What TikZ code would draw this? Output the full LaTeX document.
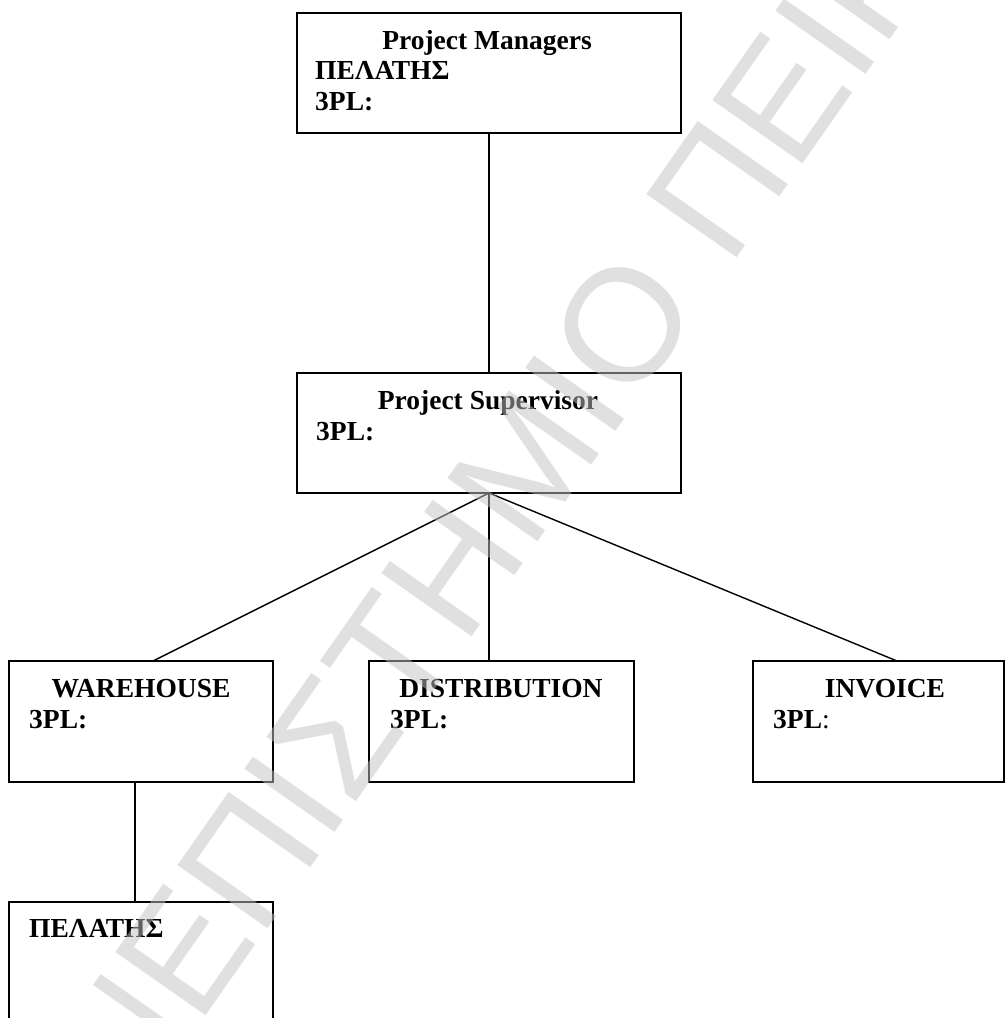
\documentclass[tikz,border=0pt]{standalone}
\usepackage{fontspec}
\setmainfont{Liberation Serif}
\newfontfamily\wmfont{Liberation Sans}
\definecolor{wmgray}{rgb}{0.76,0.76,0.76}
\begin{document}
\begin{tikzpicture}[x=1pt,y=-1pt,
  box/.style={draw=black, line width=1.8pt, rectangle, inner sep=0pt, outer sep=0pt, anchor=north west},
  lbl/.style={inner sep=0pt, font=\fontsize{27.5}{31}\selectfont\bfseries},
  title/.style={lbl, anchor=base},
  line/.style={lbl, anchor=base west},
  link/.style={draw=black, line width=1.4pt},
  wm/.style={inner sep=0pt, rotate=55, text=wmgray, text opacity=0.5, font=\wmfont\fontsize{160}{166}\selectfont}]
\useasboundingbox (0,0) rectangle (1007,1018);
\fill[white] (0,0) rectangle (1007,1018);

% boxes
\node[box, minimum width=384pt, minimum height=120pt] (pm) at (297,13) {};
\node[box, minimum width=384pt, minimum height=120pt] (ps) at (297,373) {};
\node[box, minimum width=264pt, minimum height=121pt] (wh) at (9,661) {};
\node[box, minimum width=265pt, minimum height=121pt] (di) at (369,661) {};
\node[box, minimum width=251pt, minimum height=121pt] (inv) at (753,661) {};
\node[box, minimum width=264pt, minimum height=130pt] (cu) at (9,902) {};

% texts
\node[title] (pmt) at (487,49) {Project Managers};
\node[line] (pmc) at (315,79) {ΠΕΛΑΤΗΣ};
\node[line] (pm3) at (315,110) {3PL:};

\node[title] (pst) at (488,409) {Project Supervisor};
\node[line] (ps3) at (316,440) {3PL:};

\node[title] (wht) at (141,697) {WAREHOUSE};
\node[line] (wh3) at (29,728) {3PL:};

\node[title] (dit) at (501,697) {DISTRIBUTION};
\node[line] (di3) at (390,728) {3PL:};

\node[title] (invt) at (885,697) {INVOICE};
\node[line] (inv3) at (773,728) {3PL\mdseries:};

\node[line] (cut) at (29,937) {ΠΕΛΑΤΗΣ};

% connectors
\coordinate (whin) at (153,661);
\coordinate (diin) at (489,661);
\coordinate (invin) at (897,661);
\coordinate (whout) at (135,782);
\coordinate (cuin) at (135,902);
\draw[link] (pm.south) -- (ps.north);
\draw[link] (ps.south) -- (whin);
\draw[link] (ps.south) -- (diin);
\draw[link] (ps.south) -- (invin);
\draw[link] (whout) -- (cuin);

% watermark
\node[wm] (wmk) at (532,455) {ΠΑΝΕΠΙΣΤΗΜΙΟ ΠΕΙΡΑΙΩΣ};
\end{tikzpicture}
\end{document}
